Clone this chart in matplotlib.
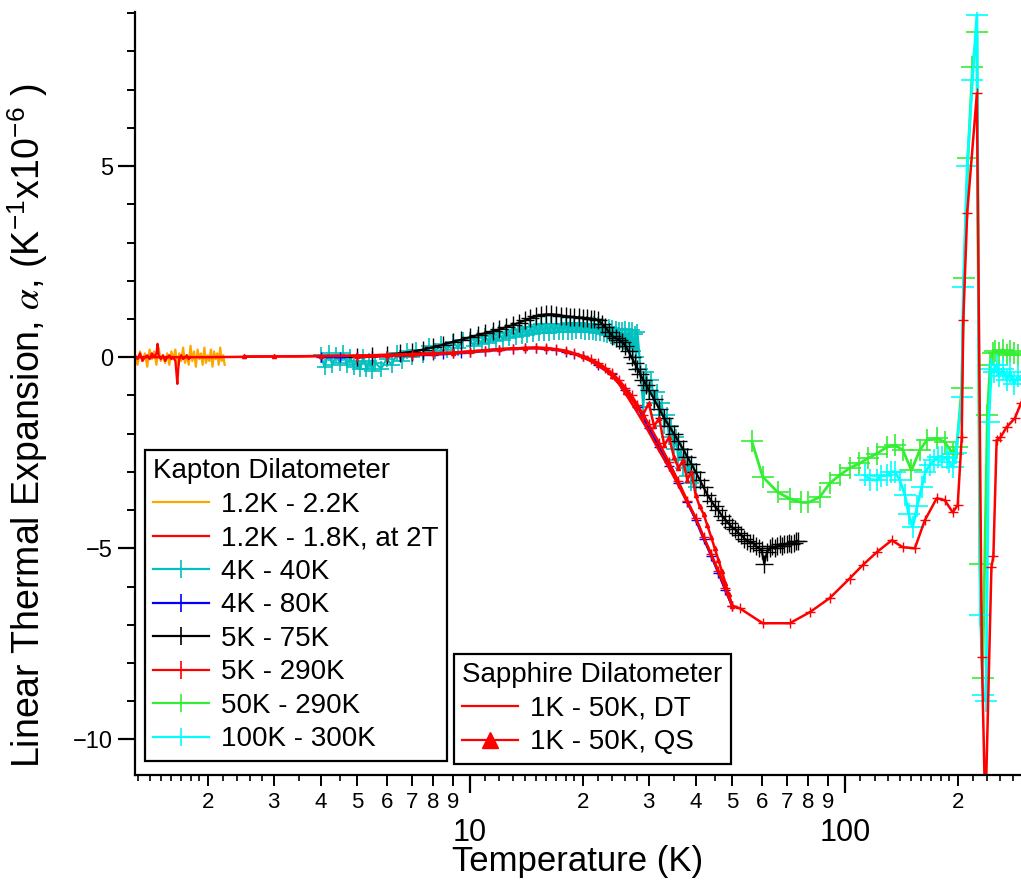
import numpy as np
import matplotlib
matplotlib.use("Agg")
import matplotlib.pyplot as plt
from matplotlib.lines import Line2D
from matplotlib.ticker import FixedLocator, NullFormatter, FixedFormatter

plt.rcParams['font.family'] = ['Liberation Sans', 'DejaVu Sans']
plt.rcParams['mathtext.fontset'] = 'stix'

# ---- data (T in K, alpha in 1e-6 / K) ----
orange_T = [1.28, 1.30, 1.32, 1.34, 1.36, 1.38, 1.40, 1.42, 1.44, 1.46, 1.48, 1.50,
            1.52, 1.54, 1.56, 1.58, 1.60, 1.62, 1.64, 1.66, 1.68, 1.70, 1.72, 1.74,
            1.76, 1.78, 1.80, 1.82, 1.84, 1.86, 1.88, 1.90, 1.92, 1.94, 1.96, 1.98,
            2.00, 2.02, 2.04, 2.06, 2.08, 2.10, 2.12, 2.14, 2.16, 2.18, 2.20, 2.22]
orange_a = [0.05, -0.2, 0.15, -0.1, 0.1, -0.25, 0.2, -0.05, 0.15, -0.2, 0.25, -0.1,
            0.05, -0.15, 0.1, -0.2, 0.15, -0.05, 0.2, -0.25, 0.1, -0.1, 0.25, -0.15,
            0.05, -0.2, 0.3, -0.1, 0.15, -0.25, 0.2, -0.05, 0.1, -0.2, 0.25, -0.15,
            0.05, -0.1, 0.2, -0.25, 0.15, -0.05, 0.1, -0.2, 0.25, -0.1, 0.05, -0.2]

red2T_T = [1.28, 1.30, 1.32, 1.34, 1.36, 1.38, 1.40, 1.42, 1.44, 1.46, 1.47, 1.48,
           1.50, 1.52, 1.54, 1.56, 1.58, 1.60, 1.62, 1.64, 1.65, 1.66, 1.67, 1.68,
           1.70, 1.72, 1.74, 1.76, 1.78, 1.80]
red2T_a = [0.05, -0.05, 0.1, -0.1, 0.0, 0.05, -0.05, 0.1, 0.0, 0.1, 0.35, 0.05,
           -0.05, 0.05, -0.1, 0.0, 0.05, -0.05, 0.0, -0.1, -0.4, -0.7, -0.3, -0.05,
           0.05, -0.05, 0.0, 0.05, -0.05, 0.0]

cyan40_T = [4.0, 4.1, 4.2, 4.3, 4.4, 4.5, 4.6, 4.7, 4.8, 4.9, 5.0, 5.1, 5.2, 5.3, 5.4,
            5.5, 5.6, 5.8, 6.0, 6.2, 6.4, 6.6, 6.8, 7.0, 7.2, 7.5, 7.8, 8.1, 8.4, 8.7,
            9.0, 9.3, 9.6,
            10.0, 10.25, 10.5, 10.75, 11.0, 11.25, 11.5, 11.75, 12.0, 12.25, 12.5,
            12.75, 13.0, 13.25, 13.5, 13.75, 14.0, 14.25, 14.5, 14.75, 15.0, 15.25,
            15.5, 15.75, 16.0, 16.25, 16.5, 16.75, 17.0, 17.25, 17.5, 17.75, 18.0,
            18.25, 18.5, 18.75, 19.0, 19.25, 19.5, 19.75, 20.0, 20.25, 20.5, 20.75,
            21.0, 21.25, 21.5, 21.75, 22.0, 22.25, 22.5, 22.75, 23.0, 23.25, 23.5,
            23.75, 24.0, 24.25, 24.5, 24.75, 25.0, 25.25, 25.5, 25.75, 26.0, 26.25,
            26.5, 26.75, 27.0, 27.25, 27.5, 27.75, 28.0,
            28.5, 29.0, 29.5, 30.0, 30.5, 31.0, 31.5, 32.0, 32.5, 33.0, 33.5, 34.0,
            34.5, 35.0, 35.5, 36.0, 36.5, 37.0, 37.5, 38.0, 38.5, 39.0, 39.5, 40.0]
cyan40_a = [0.05, -0.25, 0.1, -0.2, 0.05, -0.15, 0.1, -0.2, 0.0, -0.25, -0.1, -0.3,
            0.0, -0.3, -0.1, -0.35, -0.15, -0.3, -0.05, -0.2, 0.1, -0.1, 0.15, 0.0,
            0.2, 0.05, 0.3, 0.15, 0.35, 0.2, 0.4, 0.25, 0.45,
            0.45, 0.3, 0.5, 0.35, 0.55, 0.38, 0.58, 0.42, 0.62, 0.45, 0.66, 0.5, 0.7,
            0.52, 0.74, 0.55, 0.78, 0.58, 0.8, 0.6, 0.84, 0.62, 0.86, 0.63, 0.87,
            0.64, 0.88, 0.65, 0.88, 0.66, 0.88, 0.66, 0.88, 0.67, 0.9, 0.67, 0.9,
            0.68, 0.9, 0.68, 0.88, 0.67, 0.88, 0.66, 0.86, 0.65, 0.86, 0.64, 0.84,
            0.62, 0.82, 0.6, 0.8, 0.58, 0.78, 0.55, 0.76, 0.52, 0.74, 0.48, 0.72,
            0.45, 0.7, 0.4, 0.75, 0.35, 0.7, 0.25, 0.72, 0.15, 0.6, 0.0, 0.65,
            -0.3, -1.3, -0.4, -0.9, -0.6, -1.2, -0.9, -1.5, -1.2, -1.8, -1.5, -2.1,
            -1.8, -2.4, -2.1, -2.7, -2.4, -2.9, -2.6, -3.1, -2.8, -3.3, -3.0, -3.4]

blue_T = [4, 4.5, 5, 5.5, 6, 6.5, 7, 7.5, 8, 8.5, 9, 9.5, 10, 11, 12, 13, 14, 15, 16,
          17, 18, 19, 20, 22, 24, 26, 28, 30, 32, 34, 36, 38, 40, 42, 44, 46, 48, 50]
blue_a = [0.0, 0.0, 0.01, 0.02, 0.03, 0.04, 0.05, 0.06, 0.07, 0.08, 0.1, 0.11, 0.13,
          0.16, 0.19, 0.22, 0.23, 0.24, 0.22, 0.2, 0.14, 0.08, 0.02, -0.2, -0.45,
          -0.85, -1.3, -1.85, -2.35, -2.85, -3.3, -3.8, -4.25, -4.75, -5.2, -5.65,
          -6.1, -6.5]

black_T = [5, 5.5, 6, 6.5, 7, 7.5, 8, 8.5, 9, 9.5, 10, 10.5, 11, 11.5, 12, 12.5, 13,
           13.5, 14, 14.5, 15, 15.5, 16, 16.5, 17, 17.5, 18, 18.5, 19, 19.5, 20, 20.5,
           21, 21.5, 22, 22.5, 23, 23.5, 24, 24.5, 25, 25.5, 26, 26.5, 27, 27.5, 28,
           28.5, 29, 29.5, 30, 31, 32, 33, 34, 35, 36, 37, 38, 39, 40, 41, 42, 43, 44,
           45, 46, 47, 48, 49, 50, 51, 52, 53, 54, 55, 56, 57, 58, 59, 60, 61, 62, 63,
           64, 65, 66, 67, 68, 69, 70, 71, 72, 73, 74, 75]
black_a = [0.0, 0.02, 0.05, 0.1, 0.14, 0.2, 0.26, 0.33, 0.4, 0.46, 0.52, 0.58, 0.63,
           0.68, 0.73, 0.79, 0.84, 0.9, 0.96, 1.02, 1.07, 1.1, 1.12, 1.12, 1.11, 1.09,
           1.07, 1.06, 1.05, 1.04, 1.03, 1.02, 1.01, 0.99, 0.96, 0.88, 0.78, 0.66,
           0.55, 0.5, 0.45, 0.4, 0.3, 0.15, 0.0, -0.15, -0.3, -0.45, -0.6, -0.72,
           -0.85, -1.1, -1.35, -1.6, -1.8, -2.0, -2.2, -2.4, -2.6, -2.8, -3.0, -3.2,
           -3.4, -3.6, -3.75, -3.9, -4.0, -4.15, -4.25, -4.35, -4.45, -4.5, -4.6,
           -4.65, -4.75, -4.8, -4.85, -4.85, -4.95, -5.0, -5.05, -5.4, -5.1, -5.0,
           -4.95, -5.0, -4.95, -4.9, -4.95, -4.9, -4.88, -4.85, -4.9, -4.85, -4.82,
           -4.8]

red290_T = [5, 6, 7, 8, 9, 10, 11, 12, 13, 14, 15, 16, 17, 18, 19, 20, 21, 22, 23, 24,
            25, 26, 27, 28, 29, 30, 32, 34, 36, 38, 40, 42, 44, 46, 48, 50, 52.5,
            60.4, 71.3, 80.7, 91.2, 103, 111.6, 121.7, 133.4, 142.8, 153.7, 163.4,
            175.8, 184.7, 194, 200, 205, 207, 212, 225, 232, 237, 246, 249, 254, 260,
            270, 284, 295]
red290_a = [0.0, 0.03, 0.05, 0.08, 0.1, 0.13, 0.17, 0.2, 0.22, 0.24, 0.25, 0.24,
            0.21, 0.17, 0.1, 0.03, -0.05, -0.15, -0.28, -0.42, -0.6, -0.8, -1.0,
            -1.25, -1.5, -1.75, -2.25, -2.75, -3.25, -3.75, -4.2, -4.7, -5.15, -5.6,
            -6.05, -6.5, -6.57, -6.96, -6.96, -6.67, -6.3, -5.79, -5.44, -5.1, -4.79,
            -4.97, -5.0, -4.27, -3.69, -3.74, -4.06, -3.87, -2.1, 0.97, 3.77, 6.9,
            -7.85, -12.0, -5.5, -5.2, -2.17, -2.1, -1.83, -1.6, -1.2]

green_T = [56.5, 60.4, 66.2, 71.3, 76.6, 80, 85.7, 91.2, 96.8, 103, 109.4, 115, 121.7,
           129.7, 136.2, 142.8, 150.6, 158.5, 165.5, 175.8, 184.7, 194, 198.8, 205,
           208, 213, 219, 225, 229, 233, 240, 244, 248, 252, 258, 264, 270, 276, 282,
           290]
green_a = [-2.2, -3.13, -3.53, -3.7, -3.8, -3.8, -3.66, -3.3, -3.09, -2.9, -2.78,
           -2.65, -2.52, -2.35, -2.3, -2.43, -2.96, -2.43, -2.17, -2.12, -2.22, -2.52,
           -2.35, -0.8, 2.07, 5.2, 7.6, 8.5, -5.4, -8.4, -1.5, -0.2, 0.1, 0.15, 0.1,
           0.2, 0.05, 0.15, 0.1, 0.05]

cyan300_T = [113, 117, 121.7, 125, 129.7, 133, 136, 140, 144.6, 148, 151.6, 156,
             160.3, 164, 168.5, 173, 177.6, 182, 186.9, 190, 194, 198, 205, 207, 212,
             219, 225, 230, 234, 238, 242, 246, 250, 254, 258, 264, 270, 276, 282,
             290, 296]
cyan300_a = [-3.09, -3.2, -3.22, -3.1, -3.09, -3.0, -3.0, -3.2, -3.6, -4.1, -4.45,
             -3.9, -3.4, -3.0, -2.83, -2.7, -2.6, -2.6, -2.65, -2.75, -2.88, -2.5,
             -1.05, 1.83, 5.0, 7.25, 8.95, -6.75, -8.85, -9.0, -1.7, -0.3, -0.4, -0.2,
             -0.5, -0.3, -0.6, -0.4, -0.7, -0.5, -0.6]

dt_T = [1.0, 1.5, 2, 2.5, 3, 3.5, 4, 5, 6, 7, 8, 9, 10, 11, 12, 13, 14, 15, 16, 17, 18,
        19, 20, 21, 22, 23, 24, 25, 26, 28, 30, 32, 34, 36, 38, 40, 42, 44, 46, 48, 50]
dt_a = [0, 0, 0, 0.01, 0.02, 0.02, 0.03, 0.04, 0.06, 0.08, 0.1, 0.12, 0.15, 0.18,
        0.21, 0.23, 0.24, 0.25, 0.23, 0.2, 0.15, 0.08, 0.0, -0.1, -0.22, -0.35, -0.5,
        -0.7, -0.95, -1.45, -1.95, -2.45, -2.9, -3.35, -3.8, -4.2, -4.7, -5.15, -5.6,
        -6.0, -6.45]

qs_T = [2.5, 3, 4, 5, 6, 7, 8, 9, 10, 12, 14, 16, 18, 20, 22, 24, 26, 28, 29, 30, 31,
        32, 33, 34, 35, 36, 37, 38, 39, 40, 41, 42, 43, 44, 45, 46, 47, 48, 49, 50]
qs_a = [0.02, 0.02, 0.03, 0.04, 0.06, 0.08, 0.1, 0.12, 0.15, 0.21, 0.24, 0.23, 0.16,
        0.02, -0.2, -0.48, -0.9, -1.3, -1.5, -1.2, -1.8, -1.6, -2.3, -2.1, -2.6, -2.9,
        -2.7, -3.2, -3.0, -3.6, -3.9, -4.1, -4.4, -4.7, -5.0, -5.3, -5.6, -5.9, -6.2,
        -6.5]

kapton_labels = ['1.2K - 2.2K', '1.2K - 1.8K, at 2T', '4K - 40K', '4K - 80K',
                 '5K - 75K', '5K - 290K', '50K - 290K', '100K - 300K']
sapphire_labels = ['1K - 50K, DT', '1K - 50K, QS']

c_orange = '#FFA500'
c_red = '#FF0000'
c_teal = '#00C0C0'
c_blue = '#0000FF'
c_black = '#000000'
c_green = '#33EE33'
c_cyan = '#00FFFF'

fig = plt.figure(figsize=(10.21, 8.84), dpi=100)
ax = fig.add_axes([135 / 1021, 1 - 775 / 884, 886 / 1021, 763 / 884])

lw = 1.6
ax.plot(orange_T, orange_a, color=c_orange, lw=lw)
ax.plot(cyan40_T, cyan40_a, color=c_teal, lw=lw, marker='+', ms=12, mew=1.2)
ax.plot(red2T_T, red2T_a, color=c_red, lw=lw)
ax.plot(blue_T, blue_a, color=c_blue, lw=lw, marker='+', ms=7, mew=1.0)
ax.plot(black_T, black_a, color=c_black, lw=lw, marker='+', ms=13, mew=1.0)
ax.plot(green_T, green_a, color=c_green, lw=lw + 0.4, marker='+', ms=16, mew=1.2)
ax.plot(cyan300_T, cyan300_a, color=c_cyan, lw=lw + 0.4, marker='+', ms=16, mew=1.2)
ax.plot(red290_T, red290_a, color=c_red, lw=lw + 0.2, marker='+', ms=7, mew=1.0)
ax.plot(dt_T, dt_a, color=c_red, lw=lw + 0.2)
ax.plot(qs_T, qs_a, color=c_red, lw=lw + 0.2, marker='^', ms=3)

ax.set_xscale('log')
ax.set_xlim(1.28, 295)
ax.set_ylim(-10.93, 9.03)

for s in ['top', 'right']:
    ax.spines[s].set_visible(False)
for s in ['left', 'bottom']:
    ax.spines[s].set_linewidth(1.6)

# x ticks: origin-like log axis
ax.xaxis.set_major_locator(FixedLocator([10, 100]))
ax.xaxis.set_major_formatter(FixedFormatter(['10', '100']))
minor_pos = [2, 3, 4, 5, 6, 7, 8, 9, 20, 30, 40, 50, 60, 70, 80, 90, 200]
ax.xaxis.set_minor_locator(FixedLocator(minor_pos))
ax.xaxis.set_minor_formatter(FixedFormatter([str(v)[0] for v in minor_pos]))
ax.tick_params(axis='x', which='major', direction='out', length=13, width=1.6,
               labelsize=22, pad=18)
ax.tick_params(axis='x', which='minor', direction='out', length=8, width=1.4,
               labelsize=16, pad=4)

small = []
for dec in [1, 10, 100]:
    for k in [1.1, 1.2, 1.3, 1.4, 1.5, 1.6, 1.7, 1.8, 1.9, 2.2, 2.4, 2.6, 2.8, 3.5, 4.5]:
        small.append(round(k * dec, 3))
small = [v for v in small if 1.28 <= v <= 295]
sec = ax.secondary_xaxis('bottom')
sec.set_xticks(small)
sec.xaxis.set_major_formatter(NullFormatter())
sec.tick_params(axis='x', which='major', direction='out', length=4, width=1.2)
sec.tick_params(axis='x', which='minor', length=0)
sec.spines['bottom'].set_visible(False)

ax.set_yticks([-10, -5, 0, 5])
ax.yaxis.set_minor_locator(FixedLocator(list(range(-10, 10))))
ax.tick_params(axis='y', which='major', direction='out', length=12, width=1.6,
               labelsize=17, pad=4)
ax.tick_params(axis='y', which='minor', direction='out', length=6, width=1.4)

ax.set_xlabel('Temperature (K)', fontsize=25, labelpad=-2)
ax.set_ylabel(r'Linear Thermal Expansion, $\alpha$, (K$^{\mathregular{-1}}$x10$^{\mathregular{-6}}$ )',
              fontsize=27)
ax.yaxis.set_label_coords(-0.096, 0.458)

# legends
def plus(c, ms=13):
    return Line2D([], [], color=c, lw=1.6, marker='+', ms=ms, mew=1.2)

k_handles = [Line2D([], [], color=c_orange, lw=1.6),
             Line2D([], [], color=c_red, lw=1.6),
             plus(c_teal), plus(c_blue), plus(c_black), plus(c_red),
             plus(c_green), plus(c_cyan)]
leg1 = fig.legend(k_handles, kapton_labels, title='Kapton Dilatometer',
                  loc='upper left', bbox_to_anchor=(145 / 1021, 1 - 450 / 884),
                  fontsize=20, title_fontsize=20, alignment='left',
                  frameon=True, fancybox=False, framealpha=1, edgecolor='black',
                  handlelength=2.0, handletextpad=0.45, labelspacing=0.27,
                  borderpad=0.3, borderaxespad=0)
leg1.get_frame().set_linewidth(1.6)

s_handles = [Line2D([], [], color=c_red, lw=1.6),
             Line2D([], [], color=c_red, lw=1.6, marker='^', ms=12)]
leg2 = fig.legend(s_handles, sapphire_labels, title='Sapphire Dilatometer',
                  loc='upper left', bbox_to_anchor=(454 / 1021, 1 - 654 / 884),
                  fontsize=20, title_fontsize=20, alignment='left',
                  frameon=True, fancybox=False, framealpha=1, edgecolor='black',
                  handlelength=2.0, handletextpad=0.45, labelspacing=0.27,
                  borderpad=0.3, borderaxespad=0)
leg2.get_frame().set_linewidth(1.6)

fig.savefig('out.png', dpi=100)
